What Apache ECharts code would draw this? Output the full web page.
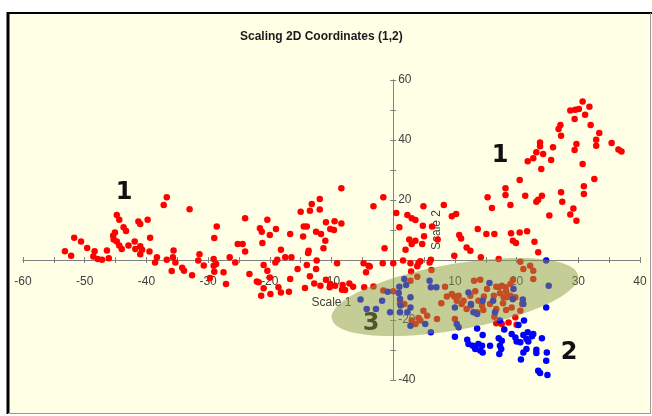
<!DOCTYPE html>
<html>
<head>
<meta charset="utf-8">
<script src="https://cdn.jsdelivr.net/npm/echarts@6/dist/echarts.min.js"></script>
<style>
html,body{margin:0;padding:0;background:#fff;}
#chart{width:652px;height:416px;}
</style>
</head>
<body>
<div id="chart"></div>
<script>
// ---- data (Scale 1, Scale 2) ----
const titleText = 'Scaling 2D Coordinates (1,2)';
const xName = 'Scale 1';
const yName = 'Scale 2';
const xRange = [-60, 40];
const yRange = [-40, 60];
const annotations = ['1', '1', '2', '3'];

// red points (cluster 1 plus red points of the overlap zone)
const redLeft = [
[-36.7,20.9],[-37.2,18.3],[-33.0,16.9],[-44.8,15.0],[-44.4,13.4],[-41.3,12.8],[-41.0,12.0],[-39.8,13.4],
[-43.7,10.9],[-43.3,9.7],[-45.1,9.2],[-45.4,8.1],[-45.3,6.8],[-51.7,7.4],[-50.6,6.2],[-49.6,4.0],
[-53.2,2.9],[-52.2,1.4],[-48.4,2.9],[-46.4,3.2],[-44.8,6.2],[-44.4,4.8],[-44.0,3.7],[-42.9,4.8],
[-41.9,6.2],[-41.8,3.7],[-41.0,4.6],[-40.7,3.4],[-41.0,1.9],[-39.5,2.8],[-39.4,7.4],[-48.6,1.2],
[-47.9,0.3],[-47.2,0.1],[-46.1,0.6],[-38.3,0.9],[-38.6,-0.8],[-35.6,3.2],[-35.7,0.9],[-36.7,0.1],
[-35.3,-0.8],[-35.9,-3.7],[-34.2,-2.6],[-33.9,-3.6],[-32.6,-5.1],[-31.4,1.9],[-31.6,-0.2],[-30.7,-1.8],
[-28.6,11.2],[-29.0,7.3],[-29.1,0.3],[-29.0,-3.9],[-29.7,-6.0]
];
const redMiddle = [
[-8.4,23.9],[-1.6,20.9],[-3.2,17.9],[-11.9,20.3],[-13.2,18.7],[-13.5,16.4],[-11.9,16.8],[-15.0,16.1],
[-24.0,13.9],[-20.4,13.4],[-21.6,10.6],[-21.3,9.4],[-20.0,8.3],[-19.0,10.3],[-16.7,8.7],[-14.5,11.2],
[-14.0,11.2],[-14.6,7.8],[-12.5,9.4],[-11.7,8.7],[-10.9,12.6],[-9.5,12.9],[-8.4,12.2],[-10.2,10.3],
[-9.6,10.0],[-11.0,6.4],[-11.3,3.9],[-25.2,5.3],[-24.4,5.3],[-24.0,2.8],[-21.2,5.7],[-18.2,3.4],
[-17.5,0.9],[-16.5,0.9],[-13.7,3.1],[-13.8,2.3],[-12.4,-0.2],[-9.1,-1.1],[-26.5,0.9],[-25.6,-0.8],
[-18.8,0.1],[-19.1,-0.8],[-28.7,-1.3],[-27.5,-4.1],[-27.1,-8.0],[-23.3,-4.7],[-21.0,-1.7],[-20.4,-3.6],
[-20.0,-5.8],[-21.8,-7.4],[-21.0,-9.4],[-21.4,-11.9],[-18.6,-9.1],[-18.2,-10.8],[-19.9,-11.3],[-16.7,-6.3],
[-15.5,-3.0],[-14.0,-1.7],[-13.5,-5.4],[-12.5,-3.0],[-12.8,-7.8],[-14.3,-9.3],[-11.8,-8.6],[-10.9,-6.6],
[-10.3,-9.1],[-9.4,-8.6],[-8.2,-8.3],[-8.3,-9.9],[-7.1,-7.8],[-4.8,-1.1],[-4.4,-4.1],[-4.0,-1.9],
[-1.7,-1.1],[0.0,-1.1],[-1.4,3.9],[-29.1,-1.9],[-22.1,-7.2],[-16.9,-10.6],
[-3.8,-2.2],[2.8,-1.1],[4.4,-0.4],[-10.2,-8.0],[-7.8,-10.0],[-6.5,-8.9]
];
const redRight = [
[20.5,26.7],[18.2,23.9],[18.2,21.7],[21.4,21.4],[24.1,21.4],[23.5,20.1],[23.2,19.4],[15.3,20.9],
[16.0,17.3],[19.0,18.3],[25.3,14.8],[0.5,15.7],[4.9,17.9],[8.2,18.3],[2.3,15.0],[3.0,13.9],
[3.6,13.3],[1.0,10.9],[4.8,11.4],[6.3,11.2],[9.5,14.6],[10.2,15.3],[10.7,8.3],[11.0,7.2],
[13.7,10.3],[15.1,8.7],[16.4,8.7],[19.1,8.9],[20.5,9.2],[21.7,9.6],[19.4,6.4],[19.9,5.7],
[22.9,6.1],[23.5,2.6],[2.6,6.8],[3.6,6.4],[3.0,5.3],[4.7,5.3],[5.0,7.9],[7.2,6.8],
[2.0,3.4],[11.9,4.2],[12.5,3.1],[14.2,0.9],[17.1,0.3],[9.9,1.4],[6.1,0.1],[4.1,-1.0],
[3.9,-2.1],[1.6,-0.2],
[30.7,52.8],[31.8,51.1],[28.7,49.8],[29.5,50.1],[30.1,50.3],[31.1,48.4],[29.4,47.0],[32.0,45.0],
[27.1,45.0],[26.8,43.7],[27.2,41.4],[33.4,42.3],[32.9,40.1],[32.9,38.1],[35.4,39.0],[36.5,36.8],
[37.0,36.2],[29.7,38.7],[29.4,36.7],[23.8,39.2],[23.8,37.9],[23.2,35.9],[24.3,35.3],[25.9,37.6],
[22.7,33.9],[21.8,32.9],[25.6,33.3],[30.7,32.0],[24.0,30.3],[32.6,27.0],[30.9,24.6],[30.9,22.0],
[27.2,22.6],[27.4,19.4],[29.2,17.2],[28.7,15.2],[29.7,13.1]
];
const redOverlap = [
[-4.7,-9.1],[-3.2,-8.8],[0.0,-10.4],[2.9,-3.8],[3.9,-5.6],[5.9,-0.8],[6.2,-3.3],[8.4,-8.9],
[7.8,-14.4],[8.7,-12.2],[9.5,-11.3],[9.9,-12.2],[10.3,-13.6],[10.6,-11.9],[11.1,-14.7],[11.4,-13.6],
[13.1,-6.9],[12.5,-11.9],[12.6,-15.2],[11.9,-16.3],[13.3,-10.4],[13.8,-13.6],[13.6,-17.4],[14.4,-15.2],
[14.6,-16.7],[14.7,-12.2],[15.2,-9.7],[15.7,-14.7],[16.3,-11.9],[16.7,-8.9],[17.1,-9.1],[17.6,-8.6],
[18.2,-9.1],[18.3,-10.4],[17.3,-11.1],[17.9,-12.4],[18.4,-12.4],[19.0,-11.9],[19.4,-13.0],[19.8,-12.4],
[17.8,-14.4],[19.2,-15.8],[18.3,-16.7],[16.7,-16.3],[16.4,-18.9],[17.6,-21.3],[18.7,-20.8],[20.0,-21.6],
[16.7,-21.1],[21.1,-3.0],[22.2,-1.9],[19.4,-6.7],[19.0,-8.0],[20.9,-14.7],[20.6,-16.9],[19.8,-19.1],
[10.0,-19.7],[7.1,-19.7],[3.0,-20.2],[4.1,-19.3],[4.4,-20.2],[3.6,-21.3],[1.8,-14.7],[1.1,-14.4],
[5.5,-18.6],[2.8,-6.9],[4.9,-16.9],[20.6,-0.6],[22.7,-6.3],[14.1,-6.6],[22.7,-3.6],[-1.6,-10.2]
];
// blue points (cluster 2 plus blue points of the overlap zone)
const blueOverlap = [
[-5.3,-13.2],[-4.3,-16.3],[-2.8,-16.3],[-1.8,-13.6],[-0.9,-10.6],[0.9,-11.0],[1.1,-13.0],[1.8,-6.3],
[2.1,-8.3],[-0.5,-17.4],[1.1,-17.4],[2.3,-17.4],[2.8,-15.8],[2.8,-21.9],[5.9,-6.9],[7.0,-9.1],
[6.1,-24.1],[5.2,-21.3],[10.0,-15.8],[10.3,-21.3],[10.6,-22.4],[12.2,-10.8],[12.6,-14.7],[13.0,-17.4],
[13.6,-18.0],[13.6,-22.8],[14.5,-13.6],[14.5,-25.0],[15.6,-7.7],[16.2,-13.6],[16.5,-17.4],[17.3,-20.2],
[18.0,-23.2],[19.5,-9.7],[19.4,-13.0],[21.0,-13.2],[21.2,-20.2],[20.3,-21.7],[24.8,-0.2],[25.2,-8.6],
[24.8,-15.8],[1.0,-8.9],[1.2,-15.2],[2.8,-12.4],[6.1,-9.1],[21.1,-14.7]
];
const blueLower = [
[10.0,-25.6],[12.0,-26.6],[12.2,-28.0],[12.9,-28.6],[13.3,-29.7],[14.1,-30.2],[13.8,-28.0],[14.4,-28.6],
[15.7,-28.6],[17.1,-26.1],[17.6,-26.9],[17.3,-28.6],[17.5,-29.7],[17.2,-31.3],[19.2,-24.7],[19.8,-25.8],
[20.0,-27.2],[20.6,-27.4],[21.1,-25.0],[21.6,-26.3],[21.9,-27.2],[22.5,-25.4],[21.8,-24.1],[21.6,-29.7],
[21.1,-30.8],[22.7,-24.7],[20.7,-33.2],[23.2,-29.9],[23.2,-31.0],[24.1,-26.1],[24.9,-30.8],[24.8,-33.6],
[23.5,-36.9],[23.8,-37.7],[25.0,-38.3],[14.5,-30.8]
];

const redPoints = redLeft.concat(redMiddle, redRight, redOverlap);
const bluePoints = blueOverlap.concat(blueLower);

const chart = echarts.init(document.getElementById('chart'), null, {renderer: 'canvas'});
const axisColor = '#808080';
const labelColor = '#404040';
const fontFam = 'Liberation Sans, Arial, sans-serif';

// grid geometry (pixels) and the offsets that bring each axis onto the zero line
const G = {left: 23, top: 80, width: 617, height: 300};
const zeroX = G.left + G.width * (0 - xRange[0]) / (xRange[1] - xRange[0]);
const zeroY = G.top + G.height * (yRange[1] - 0) / (yRange[1] - yRange[0]);

function xLabel(v){ return (v % 10 === 0 && v !== 0) ? String(v) : ''; }
function yLabel(v){ return (v % 20 === 0 && v !== 0) ? String(v) : ''; }

const option = {
  animation: false,
  backgroundColor: '#ffffff',
  title: {
    text: titleText,
    left: 240, top: 31, padding: 0,
    textStyle: {fontFamily: fontFam, fontSize: 12, fontWeight: 'bold', color: '#1a1a1a'}
  },
  grid: {left: G.left, top: G.top, width: G.width, height: G.height, containLabel: false, outerBoundsMode: 'none'},
  xAxis: [
    {type: 'value', min: xRange[0], max: xRange[1], interval: 5, position: 'bottom',
     offset: -(G.top + G.height - zeroY),
     name: xName, nameLocation: 'middle', nameGap: 37,
     nameTextStyle: {fontFamily: fontFam, fontSize: 12, color: labelColor},
     axisLine: {show: true, onZero: false, lineStyle: {color: axisColor, width: 1}},
     axisTick: {show: true, length: 3, inside: false, lineStyle: {color: axisColor}},
     axisLabel: {formatter: xLabel, margin: 16, color: labelColor, fontSize: 12, fontFamily: fontFam},
     splitLine: {show: false}},
    {type: 'value', min: xRange[0], max: xRange[1], interval: 5, position: 'top',
     offset: -(zeroY - G.top),
     axisLine: {show: true, onZero: false, lineStyle: {color: axisColor, width: 1}},
     axisTick: {show: true, length: 3, inside: false, lineStyle: {color: axisColor}},
     axisLabel: {show: false}, splitLine: {show: false}}
  ],
  yAxis: [
    {type: 'value', min: yRange[0], max: yRange[1], interval: 10, position: 'left',
     offset: -(zeroX - G.left),
     axisLine: {show: true, onZero: false, lineStyle: {color: axisColor, width: 1}},
     axisTick: {show: true, length: 3, inside: false, lineStyle: {color: axisColor}},
     axisLabel: {show: false}, splitLine: {show: false}},
    {type: 'value', min: yRange[0], max: yRange[1], interval: 10, position: 'right',
     offset: -(G.left + G.width - zeroX),
     name: yName, nameLocation: 'middle', nameGap: 37, nameRotate: 90,
     nameTextStyle: {fontFamily: fontFam, fontSize: 12, color: labelColor},
     axisLine: {show: true, onZero: false, lineStyle: {color: axisColor, width: 1}},
     axisTick: {show: true, length: 3, inside: false, lineStyle: {color: axisColor}},
     axisLabel: {formatter: yLabel, margin: 5, color: labelColor, fontSize: 12, fontFamily: fontFam},
     splitLine: {show: false}}
  ],
  series: [
    {type: 'scatter', name: 'Red', xAxisIndex: 0, yAxisIndex: 0, data: redPoints,
     symbolSize: 6.5, itemStyle: {color: '#ff0000', opacity: 1}, z: 3},
    {type: 'scatter', name: 'Blue', xAxisIndex: 0, yAxisIndex: 0, data: bluePoints,
     symbolSize: 6.5, itemStyle: {color: '#0000ff', opacity: 1}, z: 4}
  ],
  graphic: [
    {type: 'rect', z: -10, silent: true, shape: {x: 8, y: 13, width: 643, height: 401},
     style: {fill: '#ffffe5'}},
    {type: 'line', z: -5, silent: true, shape: {x1: 8, y1: 12, x2: 8, y2: 414}, style: {stroke: '#000', lineWidth: 3}},
    {type: 'line', z: -5, silent: true, shape: {x1: 7, y1: 13, x2: 652, y2: 13}, style: {stroke: '#000', lineWidth: 2}},
    {type: 'line', z: -5, silent: true, shape: {x1: 650.5, y1: 13, x2: 650.5, y2: 414}, style: {stroke: '#9a9a9a', lineWidth: 1}},
    {type: 'line', z: -5, silent: true, shape: {x1: 8, y1: 413.5, x2: 651, y2: 413.5}, style: {stroke: '#9a9a9a', lineWidth: 1}},
    {type: 'text', z: 5, silent: true, x: 124, y: 193,
     style: {text: annotations[0], fontFamily: 'DejaVu Sans', fontWeight: 'bold', fontSize: 24, fill: '#111', align: 'center', verticalAlign: 'middle'}},
    {type: 'text', z: 5, silent: true, x: 500, y: 156,
     style: {text: annotations[1], fontFamily: 'DejaVu Sans', fontWeight: 'bold', fontSize: 24, fill: '#111', align: 'center', verticalAlign: 'middle'}},
    {type: 'text', z: 5, silent: true, x: 569, y: 353,
     style: {text: annotations[2], fontFamily: 'DejaVu Sans', fontWeight: 'bold', fontSize: 24, fill: '#111', align: 'center', verticalAlign: 'middle'}},
    {type: 'text', z: 5, silent: true, x: 371, y: 324,
     style: {text: annotations[3], fontFamily: 'DejaVu Sans', fontWeight: 'bold', fontSize: 24, fill: '#111', align: 'center', verticalAlign: 'middle'}},
    {type: 'ellipse', z: 20, silent: true, x: 455, y: 297, rotation: 10 * Math.PI / 180,
     shape: {cx: 0, cy: 0, rx: 125, ry: 33},
     style: {fill: 'rgba(137,155,71,0.5)', stroke: 'none'}}
  ]
};
chart.setOption(option);
</script>
</body>
</html>
